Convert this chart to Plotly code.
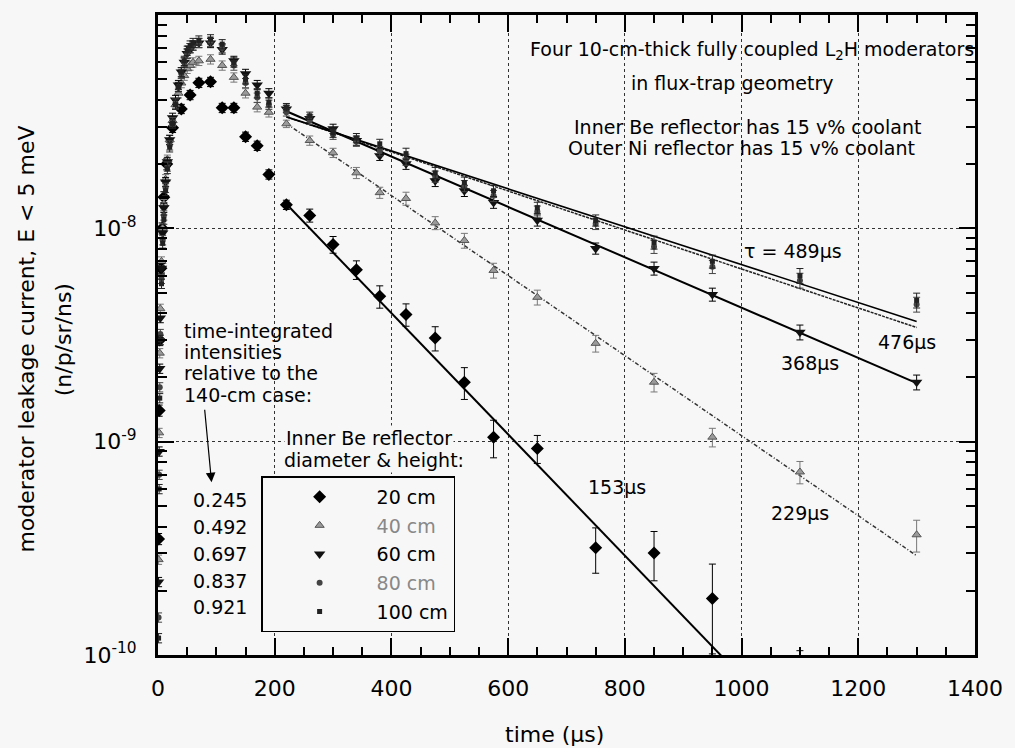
import plotly.graph_objects as go

# ---------------- data ----------------
t20 = [1, 2, 3, 5, 7, 10, 15, 25, 40, 55, 70, 90, 110, 130, 150, 170, 190,
       220, 260, 300, 340, 380, 425, 475, 525, 575, 650, 750, 850, 950, 1100]
y20 = [3.5e-10, 1.4e-9, 3.0e-9, 6.5e-9, 1.0e-8, 1.4e-8, 2.0e-8, 2.96e-8, 3.63e-8, 4.22e-8,
       4.81e-8, 4.86e-8, 3.67e-8, 3.67e-8, 2.69e-8, 2.44e-8, 1.79e-8,
       1.29e-8, 1.15e-8, 8.4e-9, 6.4e-9, 4.8e-9, 3.95e-9, 3.06e-9, 1.9e-9, 1.05e-9,
       9.3e-10, 3.18e-10, 3.01e-10, 1.84e-10, 8.0e-11]
r20 = [0.06] * 7 + [0.05] * 10 + [0.05, 0.07, 0.09, 0.10, 0.12, 0.12, 0.13, 0.17, 0.20,
                                  0.15, 0.24, 0.26, 0.45, 0.31]

t_long = [1, 2, 3, 4, 6, 8, 10, 13, 16, 20, 25, 30, 35, 40, 45, 50, 55, 60, 70, 90,
          110, 130, 150, 170, 190,
          220, 260, 300, 340, 380, 425, 475, 525, 575, 650, 750, 850, 950, 1100, 1300]

y40 = [2.8e-10, 1.1e-9, 2.6e-9, 4.2e-9, 7.0e-9, 1.0e-8, 1.3e-8, 1.7e-8, 2.1e-8, 2.6e-8,
       3.2e-8, 3.8e-8, 4.3e-8, 4.8e-8, 5.2e-8, 5.6e-8, 5.8e-8, 6.0e-8, 6.1e-8, 6.2e-8,
       5.8e-8, 5.1e-8, 4.3e-8, 3.7e-8, 3.5e-8,
       3.09e-8, 2.58e-8, 2.26e-8, 1.82e-8, 1.47e-8, 1.38e-8, 1.06e-8, 8.77e-9, 6.35e-9,
       4.75e-9, 2.89e-9, 1.90e-9, 1.05e-9, 7.21e-10, 3.66e-10]
y60 = [2.2e-10, 9.0e-10, 2.2e-9, 3.8e-9, 6.5e-9, 9.5e-9, 1.25e-8, 1.65e-8, 2.05e-8, 2.6e-8,
       3.3e-8, 4.0e-8, 4.7e-8, 5.4e-8, 6.0e-8, 6.6e-8, 7.0e-8, 7.2e-8, 7.4e-8, 7.4e-8,
       6.9e-8, 6.1e-8, 5.3e-8, 4.7e-8, 4.3e-8,
       3.63e-8, 3.27e-8, 2.93e-8, 2.58e-8, 2.19e-8, 2.01e-8, 1.67e-8, 1.50e-8, 1.32e-8,
       1.09e-8, 8.05e-9, 6.49e-9, 4.9e-9, 3.26e-9, 1.90e-9]
y80 = [1.5e-10, 7.0e-10, 1.8e-9, 3.2e-9, 5.8e-9, 8.8e-9, 1.15e-8, 1.55e-8, 1.95e-8, 2.45e-8,
       3.15e-8, 3.85e-8, 4.6e-8, 5.3e-8, 6.0e-8, 6.6e-8, 7.0e-8, 7.2e-8, 7.4e-8, 7.5e-8,
       7.0e-8, 5.8e-8, 4.8e-8, 4.1e-8, 3.8e-8,
       3.5e-8, 3.2e-8, 2.75e-8, 2.55e-8, 2.3e-8, 2.1e-8, 1.75e-8, 1.58e-8, 1.42e-8,
       1.2e-8, 1.05e-8, 8.2e-9, 6.6e-9, 5.7e-9, 4.4e-9]
y100 = [1.2e-10, 6.0e-10, 1.6e-9, 3.0e-9, 5.5e-9, 8.5e-9, 1.1e-8, 1.5e-8, 1.9e-8, 2.4e-8,
        3.1e-8, 3.8e-8, 4.6e-8, 5.4e-8, 6.1e-8, 6.8e-8, 7.2e-8, 7.4e-8, 7.6e-8, 7.7e-8,
        7.3e-8, 6.0e-8, 5.0e-8, 4.3e-8, 3.9e-8,
        3.7e-8, 3.37e-8, 2.81e-8, 2.65e-8, 2.49e-8, 2.24e-8, 1.82e-8, 1.64e-8, 1.50e-8,
        1.25e-8, 1.09e-8, 8.59e-9, 7.0e-9, 6.0e-9, 4.6e-9]
r40 = [0.05] * 25 + [0.04, 0.05, 0.05, 0.06, 0.06, 0.07, 0.07, 0.08, 0.08, 0.08, 0.09,
                     0.10, 0.10, 0.12, 0.17]
r_big = [0.05] * 25 + [0.04, 0.04, 0.05, 0.05, 0.05, 0.06, 0.06, 0.06, 0.06, 0.06, 0.06,
                       0.07, 0.07, 0.08, 0.08]

# exponential fits (straight on the log axis): end points
fit20_t = [220, 1000]
fit20_y = [1.3e-8, 7.9e-11]
fit_t = [220, 1300]
fit40_y = [3.1e-8, 2.92e-10]
fit60_y = [3.54e-8, 1.88e-9]
fit80_y = [3.33e-8, 3.43e-9]
fit100_y = [3.33e-8, 3.66e-9]

legend_names = ["20 cm", "40 cm", "60 cm", "80 cm", "100 cm"]
ratios = ["0.245", "0.492", "0.697", "0.837", "0.921"]
tau_labels = ["\u03c4 = 489\u00b5s", "476\u00b5s", "368\u00b5s", "229\u00b5s", "153\u00b5s"]
y_tickvals = [1e-10, 1e-9, 1e-8, 1e-7]
y_ticktext = ["10<sup>-10</sup>", "10<sup>-9</sup>", "10<sup>-8</sup>", "10<sup>-7</sup>"]

# ---------------- figure ----------------
FONT = "DejaVu Sans"
W, H = 1015, 748
L, R, T, B = 158, 982, 14, 655
BG = "#f7f7f7"


def xp(px):
    return (px - L) / (R - L)


def yp(py):
    return (B - py) / (B - T)


def abs_err(vals, rel):
    return [v * r for v, r in zip(vals, rel)]


fig = go.Figure()

# fit lines
fig.add_trace(go.Scatter(x=fit20_t, y=fit20_y, mode="lines", showlegend=False,
                         line=dict(color="black", width=2)))
fig.add_trace(go.Scatter(x=fit_t, y=fit40_y, mode="lines", showlegend=False,
                         line=dict(color="#333", width=1.5, dash="4px,2px,1px,2px")))
fig.add_trace(go.Scatter(x=fit_t, y=fit60_y, mode="lines", showlegend=False,
                         line=dict(color="black", width=2)))
fig.add_trace(go.Scatter(x=fit_t, y=fit80_y, mode="lines", showlegend=False,
                         line=dict(color="#222", width=1.5, dash="3px,1px")))
fig.add_trace(go.Scatter(x=fit_t, y=fit100_y, mode="lines", showlegend=False,
                         line=dict(color="black", width=1.6)))

# data
series = [
    (t20, y20, r20, legend_names[0], dict(symbol="diamond", size=10, color="black"), "black", "black"),
    (t_long, y40, r40, legend_names[1], dict(symbol="triangle-up", size=8, color="#9a9a9a",
                                             line=dict(color="#555", width=1)), "#777", "#888"),
    (t_long, y60, r_big, legend_names[2], dict(symbol="triangle-down", size=10, color="#111"), "black", "black"),
    (t_long, y80, r_big, legend_names[3], dict(symbol="circle", size=6, color="#444"), "#444", "#888"),
    (t_long, y100, r_big, legend_names[4], dict(symbol="square", size=5, color="#222"), "#222", "black"),
]
for i, (tx, ty, rel, name, mk, ecol, tcol) in enumerate(series):
    fig.add_trace(go.Scatter(
        x=tx, y=ty, mode="markers", marker=mk,
        name=f"<span style='color:{tcol}'>{name}</span>",
        legendgroup=f"g{i}",
        error_y=dict(type="data", array=abs_err(ty, rel), color=ecol, thickness=1, width=3.5),
    ))

fig.update_layout(
    width=W, height=H,
    margin=dict(l=L, r=W - R, t=T, b=H - B),
    paper_bgcolor=BG, plot_bgcolor=BG,
    font=dict(family=FONT, color="black", size=19),
    xaxis=dict(range=[0, 1400], dtick=200, tick0=0, ticks="inside", ticklen=17, tickwidth=2,
               tickcolor="black", showline=True, linewidth=3, linecolor="black", mirror="ticks",
               showgrid=True, gridcolor="#333", griddash="dot", gridwidth=1, zeroline=False,
               tickfont=dict(size=22), ticklabelstandoff=12,
               minor=dict(dtick=50, tick0=0, ticks="inside", ticklen=8, tickwidth=1.5,
                          tickcolor="black", showgrid=False)),
    yaxis=dict(type="log", range=[-10, -7], tickvals=y_tickvals, ticktext=y_ticktext,
               ticks="inside", ticklen=16, tickwidth=2, tickcolor="black",
               showline=True, linewidth=3, linecolor="black", mirror="ticks",
               showgrid=True, gridcolor="#333", griddash="dot", gridwidth=1, zeroline=False,
               tickfont=dict(size=22), ticklabelstandoff=14,
               minor=dict(dtick="D1", ticks="inside", ticklen=9, tickwidth=1.5,
                          tickcolor="black", showgrid=False)),
    legend=dict(x=xp(262), y=yp(476), xanchor="left", yanchor="top",
                bordercolor="black", borderwidth=1.5, bgcolor=BG,
                font=dict(family=FONT, size=19), itemwidth=104, tracegroupgap=1,
                itemsizing="trace"),
)

ann = []


def text(s, px, py, anchor="center", size=19, color="black", angle=0, bg=None):
    d = dict(text=s, x=xp(px), y=yp(py), xref="paper", yref="paper", showarrow=False,
             xanchor=anchor, yanchor="middle", font=dict(family=FONT, size=size, color=color),
             textangle=angle)
    if bg:
        d["bgcolor"] = bg
    ann.append(d)


text("Four 10-cm-thick fully coupled L<sub>2</sub>H moderators", 757, 50)
text("in flux-trap geometry", 737, 82)
text("Inner Be reflector has 15 v% coolant", 930, 126, anchor="right")
text("Outer Ni reflector has 15 v% coolant", 923, 147, anchor="right")

text(tau_labels[0], 850, 250, anchor="right")
text(tau_labels[1], 913, 342)
text(tau_labels[2], 847, 363, anchor="right")
text(tau_labels[3], 805, 513)
text(tau_labels[4], 621, 487)

for i, s in enumerate(["time-integrated", "intensities", "relative to the", "140-cm case:"]):
    text(s, 182, 330 + i * 21.5, anchor="left")
for i, s in enumerate(ratios):
    text(s, 191, 500 + i * 26.8, anchor="left")

text("Inner Be reflector", 285, 438, anchor="left", bg=BG)
text("diameter &amp; height:", 283, 460, anchor="left", bg=BG)

text("moderator leakage current, E &lt; 5 meV", 25, 339, size=22, angle=-90)
text("(n/p/sr/ns)", 63, 339, size=22, angle=-90)
text("time (\u00b5s)", 558, 735, size=22)

ann.append(dict(x=xp(212), y=yp(482), xref="paper", yref="paper", text="", showarrow=True,
                ax=-7, ay=-74, arrowhead=2, arrowsize=1.6, arrowwidth=1.2, arrowcolor="black"))

fig.update_layout(annotations=ann)

fig.write_html("out.html", config={"displayModeBar": False},
               post_script="document.body.style.margin='0';")
